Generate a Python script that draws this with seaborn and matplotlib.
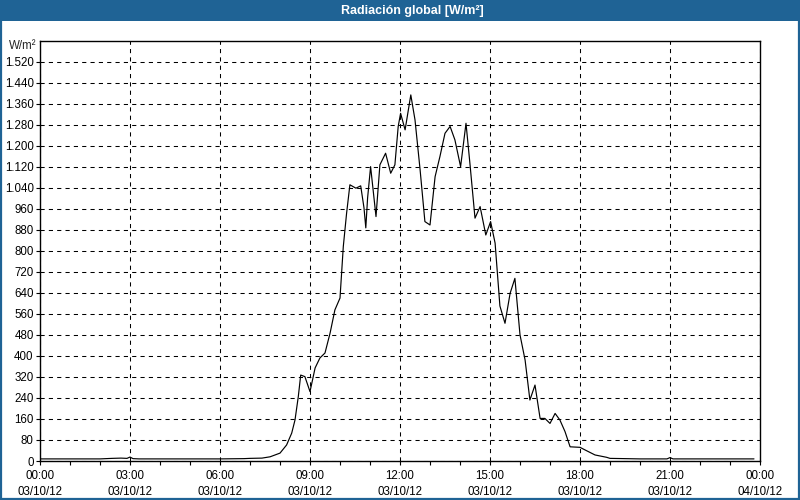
import numpy as np
import pandas as pd
import matplotlib
matplotlib.use("Agg")
import matplotlib.pyplot as plt
from matplotlib.patches import Rectangle
from matplotlib.ticker import FuncFormatter, MultipleLocator
import seaborn as sns

# --- data (hours since 00:00 on 03/10/12, W/m²) ---
hours = [0.0, 1.0, 2.0, 2.4, 2.7, 2.9, 3.0, 3.1, 3.3, 4.0, 5.0, 6.0, 6.8, 7.0,
         7.4, 7.67, 8.0, 8.22, 8.39, 8.5, 8.61, 8.69, 8.83, 9.0, 9.17, 9.33, 9.5,
         9.67, 9.83, 10.0, 10.11, 10.22, 10.33, 10.53, 10.69, 10.8, 10.86, 10.92,
         11.02, 11.2, 11.33, 11.52, 11.69, 11.83, 11.94, 12.02, 12.17, 12.36, 12.5,
         12.67, 12.83, 13.0, 13.17, 13.33, 13.5, 13.67, 13.83, 14.02, 14.2, 14.33,
         14.5, 14.67, 14.86, 15.02, 15.17, 15.33, 15.5, 15.67, 15.83, 16.0, 16.17,
         16.33, 16.5, 16.67, 16.83, 17.0, 17.17, 17.33, 17.5, 17.67, 18.0, 18.17,
         18.5, 18.89, 19.0, 19.5, 20.0, 20.9, 21.0, 21.1, 22.0, 23.0, 23.8]
values = [8, 8, 8, 10, 11, 10, 15, 9, 8, 8, 8, 8, 9, 10,
          11, 16, 30, 61, 106, 156, 245, 327, 321, 264, 354, 392, 411,
          487, 575, 620, 816, 943, 1051, 1038, 1047, 963, 887, 1001,
          1120, 930, 1127, 1171, 1095, 1127, 1273, 1323, 1260, 1393, 1298,
          1108, 911, 898, 1082, 1158, 1247, 1273, 1222, 1120, 1285, 1133,
          924, 968, 860, 911, 829, 590, 524, 638, 695, 480, 384,
          232, 289, 162, 162, 143, 181, 156, 112, 54, 52, 42,
          23, 14, 10, 9, 8, 8, 13, 8, 8, 8, 8]

x_labels = ["00:00\n03/10/12", "03:00\n03/10/12", "06:00\n03/10/12", "09:00\n03/10/12",
            "12:00\n03/10/12", "15:00\n03/10/12", "18:00\n03/10/12", "21:00\n03/10/12",
            "00:00\n04/10/12"]
title = "Radiación global [W/m²]"
unit = "W/m²"

df = pd.DataFrame({"hour": hours, "value": values})

sns.set_style("white")
plt.rcParams["font.family"] = ["Liberation Sans", "DejaVu Sans"]

BLUE = "#1f6395"
FS = 8.3
fig = plt.figure(figsize=(8, 5), dpi=100)
fig.patch.set_facecolor("white")

ax = fig.add_axes([40 / 800, 1 - 461 / 500, 720 / 800, 420.5 / 500])
sns.lineplot(data=df, x="hour", y="value", ax=ax, color="black", linewidth=0.85)

ax.set_xlim(0, 24)
ax.set_ylim(0, 1600)
ax.set_xticks(np.arange(0, 25, 3))
ax.set_xticklabels(x_labels, linespacing=1.4)
ax.xaxis.set_minor_locator(MultipleLocator(1))
ax.set_yticks(np.arange(0, 1521, 80))
ax.yaxis.set_major_formatter(FuncFormatter(lambda v, p: f"{int(v):,}".replace(",", ".")))
ax.set_xlabel("")
ax.set_ylabel("")

ax.grid(True, which="major", color="black", linestyle=(0, (4, 4)), linewidth=0.75)
for s in ax.spines.values():
    s.set_color("black")
    s.set_linewidth(1.0)
ax.tick_params(axis="both", which="major", direction="out", length=3, width=0.8,
               color="black", labelsize=FS, labelcolor="black",
               bottom=True, left=True)
ax.tick_params(axis="y", which="major", pad=1.5)
ax.tick_params(axis="x", which="major", pad=3.5)
ax.tick_params(axis="x", which="minor", direction="out", length=3, width=0.8,
               color="black", bottom=True)

# unit label
fig.text(36 / 800, 1 - 46 / 500, unit, fontsize=FS, ha="right", va="center")

# title bar and window border
fig.patches.append(Rectangle((0, 1 - 21 / 500), 1, 21 / 500, transform=fig.transFigure,
                             facecolor=BLUE, edgecolor="none", zorder=0))
fig.patches.append(Rectangle((0.001, 0.002), 0.998, 0.996, transform=fig.transFigure,
                             facecolor="none", edgecolor=BLUE, linewidth=1.6, zorder=5))
fig.text(412 / 800, 1 - 11 / 500, title, color="white", fontsize=9, fontweight="bold",
         ha="center", va="center")

fig.savefig("out.png", dpi=100)
